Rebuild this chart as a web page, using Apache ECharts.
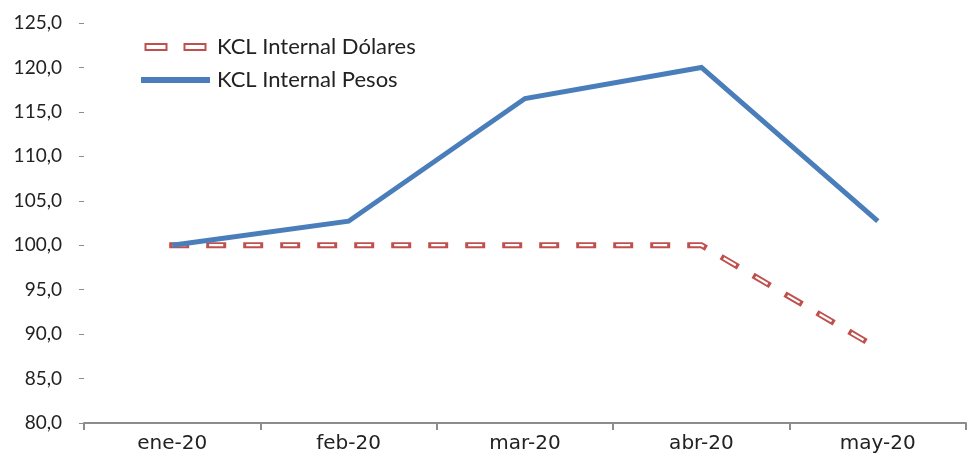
<!DOCTYPE html>
<html>
<head>
<meta charset="utf-8">
<script src="https://cdn.jsdelivr.net/npm/echarts@6/dist/echarts.min.js"></script>
<style>
  html, body { margin: 0; padding: 0; background: #fff; }
  #chart { width: 971px; height: 456px; }
</style>
</head>
<body>
<div id="chart"></div>
<script>
var months = ['ene-20', 'feb-20', 'mar-20', 'abr-20', 'may-20']
var dolares = [100.0, 100.0, 100.0, 100.0, 88.4]
var pesos = [100.0, 102.7, 116.5, 120.0, 102.7]

var red = '#C0504D'
var blue = '#4A7EBB'

var myChart = echarts.init(document.getElementById('chart'))

var option = {
  animation: false,
  grid: {
    left: 84,
    right: 5,
    top: 23,
    bottom: 33
  },
  legend: {
    orient: 'vertical',
    left: 136,
    top: 31,
    itemWidth: 69,
    itemHeight: 6,
    itemGap: 11,
    textStyle: {
      fontFamily: 'Lato',
      fontSize: 22,
      color: '#222',
      padding: [0, 0, 0, 2]
    },
    data: [
      {
        name: 'KCL Internal Dólares',
        icon: 'path://M0,0H21V6H0Z M39,0H60V6H39Z',
        itemStyle: { color: '#fff', borderColor: red, borderWidth: 2 }
      },
      {
        name: 'KCL Internal Pesos',
        icon: 'rect',
        itemStyle: { color: blue, borderWidth: 0 }
      }
    ]
  },
  xAxis: {
    type: 'category',
    data: months,
    boundaryGap: true,
    axisLine: { lineStyle: { color: '#8c8c8c', width: 2 } },
    axisTick: { show: true, length: 7, lineStyle: { color: '#8c8c8c', width: 2 } },
    axisLabel: {
      margin: 11,
      fontFamily: 'DejaVu Sans',
      fontSize: 20,
      color: '#222'
    }
  },
  yAxis: {
    type: 'value',
    min: 80,
    max: 125,
    interval: 5,
    splitLine: { show: false },
    axisLine: { show: false },
    axisTick: { show: true, length: 5, lineStyle: { color: '#8c8c8c' } },
    axisLabel: {
      margin: 22,
      fontFamily: 'Lato',
      fontSize: 19,
      color: '#222',
      formatter: function (v) {
        return v.toFixed(1).replace('.', ',')
      }
    }
  },
  series: [
    {
      name: 'KCL Internal Dólares',
      type: 'line',
      data: dolares,
      showSymbol: false,
      symbol: 'none',
      lineStyle: { color: red, width: 6, type: [14, 23], cap: 'square', join: 'miter' },
      itemStyle: { color: red }
    },
    {
      name: 'dolaresInner',
      type: 'line',
      data: dolares,
      showSymbol: false,
      symbol: 'none',
      lineStyle: { color: '#fff', width: 2.2, type: [14, 23], cap: 'butt', join: 'miter' },
      itemStyle: { color: '#fff' }
    },
    {
      name: 'KCL Internal Pesos',
      type: 'line',
      data: pesos,
      showSymbol: false,
      symbol: 'none',
      lineStyle: { color: blue, width: 5, join: 'miter' },
      itemStyle: { color: blue }
    }
  ]
}

myChart.setOption(option)
</script>
</body>
</html>
